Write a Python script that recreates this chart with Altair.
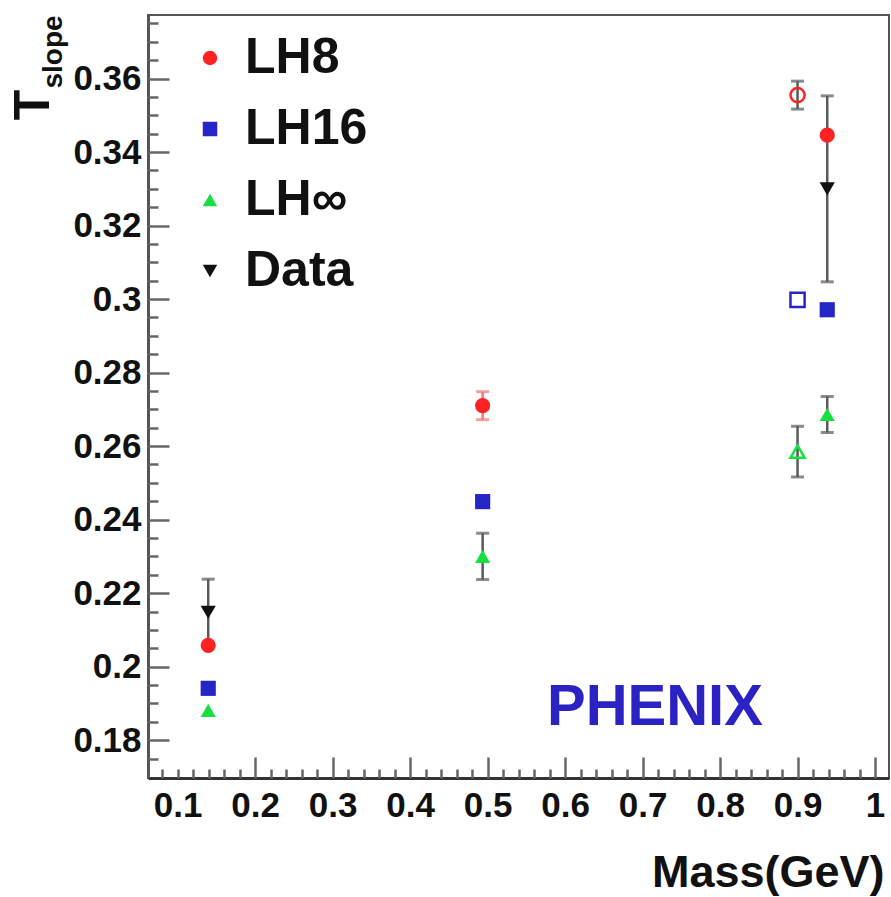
import altair as alt
import pandas as pd

# ---------------- data ----------------
series = ["LH8", "LH16", "LH∞", "Data"]
colors = ["#ff2222", "#2626c8", "#16e040", "#111111"]
shapes = ["circle", "square", "triangle-up", "triangle-down"]

masses = [0.1396, 0.4937, 0.9383]          # pi, K, p  (GeV)
lh8_t = [0.2058, 0.2710, 0.3446]
lh8_err = [0.0, 0.0038, 0.0]
lh16_t = [0.1941, 0.2449, 0.2971]
lh16_err = [0.0, 0.0, 0.0]
lhinf_t = [0.1881, 0.2300, 0.2686]
lhinf_err = [0.0, 0.0063, 0.0049]
data_mass = [0.1396, 0.9383]
data_t = [0.2148, 0.3300]
data_err = [0.0090, 0.0253]

open_mass = [0.90, 0.90, 0.90]
open_series = ["LH8", "LH16", "LH∞"]
open_t = [0.3555, 0.2998, 0.2585]
open_err = [0.0038, 0.0, 0.0069]

x_ticks = [round(0.08 + 0.02 * i, 2) for i in range(47)]
x_labels = [round(0.1 * i, 1) for i in range(1, 11)]
y_ticks = [round(0.175 + 0.005 * i, 3) for i in range(41)]
y_labels = [round(0.18 + 0.02 * i, 2) for i in range(10)]

phenix_x = [0.716]
phenix_y = [0.1887]
phenix_text = ["PHENIX"]

X_DOMAIN = [0.0619, 1.018]
Y_DOMAIN = [0.1697, 0.3773]

# ---------------- tables ----------------
rows = []
err_rows = []
for name, ys_, es in [("LH8", lh8_t, lh8_err), ("LH16", lh16_t, lh16_err),
                      ("LH∞", lhinf_t, lhinf_err)]:
    for m, y, e in zip(masses, ys_, es):
        rows.append({"series": name, "mass": m, "t": y})
        if e > 0:
            err_rows.append({"mass": m, "lo": y - e, "hi": y + e,
                             "ecol": "#f07878" if name == "LH8" else "#5a5a5a"})
for m, y, e in zip(data_mass, data_t, data_err):
    rows.append({"series": "Data", "mass": m, "t": y})
    err_rows.append({"mass": m, "lo": y - e, "hi": y + e, "ecol": "#5a5a5a"})
df = pd.DataFrame(rows)

open_rows = []
for m, s, y, e in zip(open_mass, open_series, open_t, open_err):
    i = series.index(s)
    open_rows.append({"series": s, "mass": m, "t": y,
                      "shape": shapes[i], "col": colors[i]})
    if e > 0:
        err_rows.append({"mass": m, "lo": y - e, "hi": y + e, "ecol": "#5a5a5a"})
df_open = pd.DataFrame(open_rows)
df_err = pd.DataFrame(err_rows)
df_phenix = pd.DataFrame({"mass": phenix_x, "t": phenix_y, "label": phenix_text})

FONT = "Liberation Sans"
xs = alt.Scale(domain=X_DOMAIN, nice=False, zero=False)
ys = alt.Scale(domain=Y_DOMAIN, nice=False, zero=False)

x_axis = alt.Axis(
    orient="bottom", values=x_labels, format=".1~f", ticks=False, tickSize=0,
    grid=False, labelFont=FONT, labelFontWeight="bold", labelFontSize=35,
    labelColor="#111", labelPadding=10, labelFlush=False, labelOverlap=False,
    domainColor="#333", domainWidth=3,
    title="Mass(GeV)", titleFont=FONT, titleFontWeight="bold", titleFontSize=45,
    titleColor="#111", titleAnchor="end", titleAlign="right", titleX=736,
    titleY=108, titleBaseline="alphabetic")
y_axis = alt.Axis(
    orient="left", values=y_labels, format=".2~f", ticks=False, tickSize=0,
    grid=False, labelFont=FONT, labelFontWeight="bold", labelFontSize=35,
    labelColor="#111", labelPadding=7, labelFlush=False, labelOverlap=False,
    domainColor="#555", domainWidth=3, title=None)


def X(field):
    return alt.X(field, scale=xs, axis=x_axis)


def Y(field):
    return alt.Y(field, scale=ys, axis=y_axis)


err_rules = alt.Chart(df_err).mark_rule(strokeWidth=2.5).encode(
    x=X("mass:Q"), y=Y("lo:Q"), y2="hi:Q",
    color=alt.Color("ecol:N", scale=None))
cap_lo = alt.Chart(df_err).mark_tick(orient="horizontal", size=13, thickness=3).encode(
    x=X("mass:Q"), y=Y("lo:Q"), color=alt.Color("ecol:N", scale=None))
cap_hi = alt.Chart(df_err).mark_tick(orient="horizontal", size=13, thickness=3).encode(
    x=X("mass:Q"), y=Y("hi:Q"), color=alt.Color("ecol:N", scale=None))

points = alt.Chart(df).mark_point(filled=True, size=230, opacity=1).encode(
    x=X("mass:Q"), y=Y("t:Q"),
    opacity=alt.value(1),
    color=alt.Color("series:N", scale=alt.Scale(domain=series, range=colors),
                    legend=alt.Legend(orient="none", legendX=37, legendY=18,
                                      title=None, labelFont=FONT,
                                      labelFontWeight="bold", labelFontSize=50,
                                      labelColor="#111", symbolSize=210,
                                      symbolOpacity=1,
                                      rowPadding=21, labelOffset=10, padding=0,
                                      symbolStrokeWidth=0)),
    shape=alt.Shape("series:N", scale=alt.Scale(domain=series, range=shapes)))

open_pts = alt.Chart(df_open).mark_point(filled=False, size=200, strokeWidth=2.5,
                                         opacity=1).encode(
    x=X("mass:Q"), y=Y("t:Q"),
    shape=alt.Shape("shape:N", scale=None),
    stroke=alt.Stroke("col:N", scale=None))

phenix = alt.Chart(df_phenix).mark_text(font=FONT, fontWeight="bold", fontSize=58,
                                        color="#2b22c4", align="center",
                                        baseline="middle").encode(
    x=X("mass:Q"), y=Y("t:Q"), text="label:N")

title_T = alt.Chart(df_phenix).mark_text(text="T", font=FONT, fontWeight="bold",
                                         fontSize=50, angle=270, align="center",
                                         baseline="middle", color="#111").encode(
    x=alt.value(-114), y=alt.value(90))
title_sub = alt.Chart(df_phenix).mark_text(text="slope", font=FONT, fontWeight="bold",
                                           fontSize=28, angle=270, align="center",
                                           baseline="middle", color="#111").encode(
    x=alt.value(-94), y=alt.value(37))

main = alt.layer(err_rules, cap_lo, cap_hi, points, open_pts, phenix, title_T, title_sub)

ticks_layer = alt.Chart(df).mark_point(opacity=0).encode(
    x=alt.X("mass:Q", scale=xs, axis=alt.Axis(
        orient="top", offset=-763, values=x_ticks, labels=False, domain=False,
        grid=False, title=None, tickColor="#666", tickWidth=2.5,
        tickSize={"condition": {"test": "datum.value > 0.15 && abs(datum.value*10 - round(datum.value*10)) < 0.001",
                                "value": 21}, "value": 9})),
    y=alt.Y("t:Q", scale=ys, axis=alt.Axis(
        orient="right", offset=-741, values=y_ticks, labels=False, domain=False,
        grid=False, title=None, tickColor="#666", tickWidth=2.5,
        tickSize={"condition": {"test": "abs(datum.value*50 - round(datum.value*50)) < 0.001",
                                "value": 21}, "value": 10})))

chart = alt.layer(main, ticks_layer).resolve_scale(
    x="independent", y="independent"
).properties(
    width=741, height=763,
    padding={"left": 148, "top": 15, "right": 2, "bottom": 119},
    autosize=alt.AutoSizeParams(type="none"),
    background="white",
).configure_view(stroke="#555", strokeWidth=2).configure_legend(symbolOpacity=1)

chart.save("out.html", embed_options={"renderer": "svg", "actions": False})
